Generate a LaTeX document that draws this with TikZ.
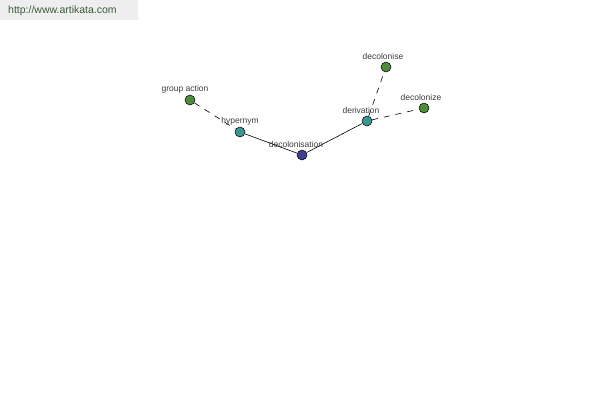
\documentclass[tikz,border=0pt]{standalone}
\usepackage{fontspec}
\setmainfont{Liberation Sans}
\begin{document}
\begin{tikzpicture}[x=1pt,y=-1pt,
  vert/.style={circle,draw=black,line width=0.5pt,minimum size=10pt,inner sep=0pt},
  green/.style={vert,fill={rgb,255:red,78;green,140;blue,60}},
  teal/.style={vert,fill={rgb,255:red,58;green,150;blue,145}},
  blue/.style={vert,fill={rgb,255:red,64;green,64;blue,150}},
  lbl/.style={font=\fontsize{8.5}{9}\selectfont,text={rgb,255:red,60;green,60;blue,60},inner sep=0pt},
  edge/.style={line width=0.6pt,draw=black},
  dedge/.style={edge,dash pattern=on 6pt off 6pt}]
\useasboundingbox[fill=white] (0,0) rectangle (600,400);
\fill[fill={rgb,255:red,238;green,238;blue,238}] (0,0) rectangle (138,20);
\node[anchor=west,font=\fontsize{10.5}{11}\selectfont,text={rgb,255:red,60;green,90;blue,60},inner sep=0pt] (url) at (8,11) {http://www.artikata.com};
\node[green] (ga) at (190,100) {};
\node[teal] (hy) at (240,132) {};
\node[blue] (dc) at (302,155) {};
\node[teal] (dv) at (367,121) {};
\node[green] (ds) at (386,67) {};
\node[green] (dz) at (424,108) {};
\draw[dedge] (ga) -- (hy);
\draw[edge] (hy) -- (dc);
\draw[edge] (dc) -- (dv);
\draw[dedge] (dv) -- (ds);
\draw[dedge] (dv) -- (dz);
\node[lbl] (lga) at (185,89) {group action};
\node[lbl] (lhy) at (240,121) {hypernym};
\node[lbl] (ldc) at (296,144) {decolonisation};
\node[lbl] (ldv) at (361,110) {derivation};
\node[lbl] (lds) at (383,56) {decolonise};
\node[lbl] (ldz) at (421,97) {decolonize};
\end{tikzpicture}
\end{document}
